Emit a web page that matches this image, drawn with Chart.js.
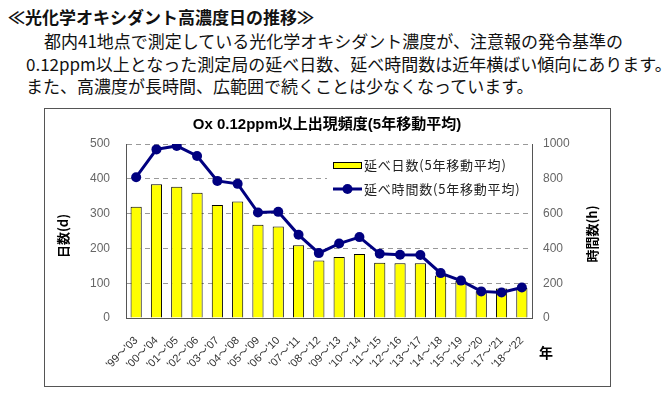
<!DOCTYPE html>
<html>
<head>
<meta charset="utf-8">
<script src="https://cdn.jsdelivr.net/npm/chart.js@4"></script>
<style>
body { margin: 0; background: #fff; width: 665px; height: 395px; position: relative; overflow: hidden; font-family: 'Noto Sans CJK JP', sans-serif; color: #111; }
#head { position: absolute; left: 8px; top: 4px; font-size: 17px; font-weight: bold; line-height: 26px; white-space: nowrap; }
#body { position: absolute; left: 26px; top: 30px; font-size: 17px; line-height: 22.5px; white-space: nowrap; }
#box { position: absolute; left: 44px; top: 108px; width: 565px; height: 277px; border: 1px solid #555; pointer-events: none; }
#oxChart { position: absolute; left: 44px; top: 108px; }
</style>
</head>
<body>
<div id="head">≪光化学オキシダント高濃度日の推移≫</div>
<div id="body">
<div style="text-indent: 18px;">都内41地点で測定している光化学オキシダント濃度が、注意報の発令基準の</div>
<div>0.12ppm以上となった測定局の延べ日数、延べ時間数は近年横ばい傾向にあります。</div>
<div>また、高濃度が長時間、広範囲で続くことは少なくなっています。</div>
</div>
<canvas id="oxChart" width="566" height="278"></canvas>
<div id="box"></div>
<script>
// 5-year moving averages
const periods = ["'99～'03", "'00～'04", "'01～'05", "'02～'06", "'03～'07", "'04～'08", "'05～'09",
    "'06～'10", "'07～'11", "'08～'12", "'09～'13", "'10～'14", "'11～'15", "'12～'16", "'13～'17",
    "'14～'18", "'15～'19", "'16～'20", "'17～'21", "'18～'22"];
const totalDays = [320, 384, 377, 360, 325, 335, 268, 263, 209, 165, 175, 184, 159, 157, 157, 122, 106, 77, 85, 86];
const totalHours = [809, 969, 989, 931, 788, 771, 606, 610, 478, 373, 428, 465, 369, 363, 362, 258, 215, 153, 147, 175];

const dayLabel = '延べ日数(5年移動平均)';
const hourLabel = '延べ時間数(5年移動平均)';
const jpFont = "'Noto Sans CJK JP', sans-serif";
const numFont = "'Liberation Sans', Arial, sans-serif";

const extraText = { // legend inside the plot, axis titles, unit label
    id: 'extraText',
    afterDatasetsDraw(chart) {
        const ctx = chart.ctx;
        ctx.save();
        // legend box
        ctx.fillStyle = '#fff';
        ctx.fillRect(283, 42, 203, 50);
        ctx.fillStyle = '#ffff00';
        ctx.strokeStyle = '#000';
        ctx.lineWidth = 1;
        ctx.fillRect(289.5, 54.5, 28, 6);
        ctx.strokeRect(289.5, 54.5, 28, 6);
        ctx.strokeStyle = '#000080';
        ctx.lineWidth = 3;
        ctx.beginPath();
        ctx.moveTo(289, 81);
        ctx.lineTo(318, 81);
        ctx.stroke();
        ctx.fillStyle = '#000080';
        ctx.beginPath();
        ctx.arc(303.5, 81, 5, 0, Math.PI * 2);
        ctx.fill();

        ctx.fillStyle = '#222';
        ctx.font = '13px ' + jpFont;
        ctx.letterSpacing = '0.8px';
        ctx.textBaseline = 'middle';
        ctx.fillText(dayLabel, 320, 57);
        ctx.fillText(hourLabel, 320, 81);
        ctx.letterSpacing = '0px';

        // axis titles, both read bottom to top
        ctx.fillStyle = '#000';
        ctx.font = 'bold 13px ' + jpFont;
        ctx.textAlign = 'center';
        ctx.save();
        ctx.translate(19, 128);
        ctx.rotate(-Math.PI / 2);
        ctx.fillText('日数(d)', 0, 0);
        ctx.restore();
        ctx.save();
        ctx.translate(548, 126);
        ctx.rotate(-Math.PI / 2);
        ctx.fillText('時間数(h)', 0, 0);
        ctx.restore();

        ctx.font = 'bold 14px ' + jpFont;
        ctx.fillText('年', 502, 245);
        ctx.restore();
    }
};

const ctx = document.getElementById('oxChart').getContext('2d');

const oxChart = new Chart(ctx, {
    data: {
        labels: periods,
        datasets: [{
            type: 'line',
            label: hourLabel,
            data: totalHours,
            yAxisID: 'y1',
            borderColor: '#000080',
            borderWidth: 3,
            pointRadius: 5,
            pointBackgroundColor: '#000080',
            pointBorderWidth: 0,
            tension: 0,
            order: 0
        }, {
            type: 'bar',
            label: dayLabel,
            data: totalDays,
            yAxisID: 'y',
            backgroundColor: '#ffff00',
            borderColor: '#000',
            borderWidth: 1,
            barPercentage: 0.55,
            categoryPercentage: 1,
            order: 1
        }]
    },
    options: {
        responsive: false,
        animation: false,
        layout: { padding: 0 },
        plugins: {
            legend: { display: false },
            tooltip: { enabled: false },
            title: {
                display: true,
                text: 'Ox 0.12ppm以上出現頻度(5年移動平均)',
                color: '#000',
                font: { family: numFont + ", 'Noto Sans CJK JP'", size: 15, weight: 'bold' },
                padding: { top: 8, bottom: 10 }
            }
        },
        scales: {
            x: {
                offset: true,
                grid: { display: false },
                border: { display: true, color: '#555' },
                ticks: {
                    autoSkip: false,
                    maxRotation: 45,
                    minRotation: 45,
                    padding: 8,
                    color: '#333',
                    font: { family: numFont + ", 'Noto Sans CJK JP'", size: 11 }
                },
                afterFit: function(scale) { scale.height = 68; }
            },
            y: {
                position: 'left',
                min: 0,
                max: 500,
                ticks: {
                    stepSize: 100,
                    padding: 16,
                    color: '#666',
                    font: { family: numFont, size: 12 }
                },
                grid: { color: '#999', drawTicks: false },
                border: { display: true, color: '#555', dash: [5, 4] },
                afterFit: function(scale) { scale.width = 82; }
            },
            y1: {
                position: 'right',
                min: 0,
                max: 1000,
                ticks: {
                    stepSize: 200,
                    padding: 11,
                    color: '#666',
                    font: { family: numFont, size: 12 },
                    callback: function(value) { return String(value); }
                },
                grid: { drawOnChartArea: false, drawTicks: false },
                border: { display: true, color: '#555' },
                afterFit: function(scale) { scale.width = 78; }
            }
        }
    },
    plugins: [extraText]
});
</script>
</body>
</html>
